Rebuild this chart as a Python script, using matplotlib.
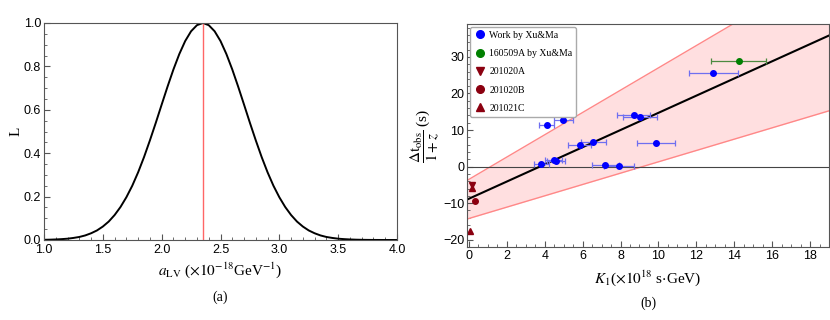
import numpy as np
import matplotlib.pyplot as plt
from matplotlib.ticker import MultipleLocator
from matplotlib.lines import Line2D

# panel (a): likelihood curve (step 0.05)
a_lv = [round(1.0 + 0.05 * i, 2) for i in range(61)]
like = [0.0009, 0.0015, 0.0025, 0.004, 0.006, 0.0095, 0.014, 0.021, 0.031, 0.044,
        0.062, 0.085, 0.115, 0.152, 0.197, 0.250, 0.312, 0.382, 0.459, 0.540,
        0.624, 0.707, 0.786, 0.857, 0.917, 0.962, 0.990, 1.0,
        0.990, 0.962, 0.917, 0.857, 0.786, 0.707, 0.624, 0.540, 0.459, 0.382,
        0.312, 0.250, 0.197, 0.152, 0.115, 0.085, 0.062, 0.044, 0.031, 0.021,
        0.014, 0.0095, 0.006, 0.004, 0.0025, 0.0015, 0.0009, 0.0005, 0.0003,
        0.0002, 0.0001, 0.0001, 0.0]
a_best = 2.35

# panel (b): Work by Xu&Ma
k_xu = [4.1, 4.97, 8.7, 9.05, 12.9, 5.85, 6.55, 9.85, 3.83, 4.47, 4.6, 7.2, 7.93]
k_xu_err = [0.41, 0.5, 0.88, 0.9, 1.28, 0.6, 0.66, 1.0, 0.4, 0.44, 0.47, 0.73, 0.79]
t_xu = [11.5, 12.7, 14.0, 13.5, 25.5, 5.9, 6.6, 6.5, 0.7, 1.9, 1.6, 0.5, 0.2]

k_160509 = [14.24]
k_160509_err = [1.44]
t_160509 = [28.8]

k_201020a, t_201020a = [0.15], [-5.0]
k_201020b, t_201020b = [0.3], [-9.5]
k_201021c, t_201021c = [0.15, 0.05], [-5.8, -17.6]

# fit line and band: slope, intercept
fit = (2.35, -8.8)
band_up = (3.05, -3.5)
band_lo = (1.55, -14.2)

serif = 'Liberation Serif'
sans = 'Liberation Sans'
plt.rcParams['font.family'] = sans
plt.rcParams['mathtext.fontset'] = 'stix'

fig = plt.figure(figsize=(8.3, 3.2), dpi=100)
ax1 = fig.add_axes([44 / 830, 1 - 240 / 320, 353 / 830, 217 / 320])
ax2 = fig.add_axes([467 / 830, 1 - 247 / 320, 362 / 830, 223 / 320])

for ax in (ax1, ax2):
    for s in ax.spines.values():
        s.set_color('#555555')
        s.set_linewidth(0.8)
    ax.tick_params(which='both', direction='in', top=False, right=False,
                   labelsize=9, color='#555555', pad=2)
    ax.tick_params(which='major', length=4)
    ax.tick_params(which='minor', length=2)
ax1.tick_params(axis='x', pad=3)

# (a)
ax1.plot(a_lv, like, color='black', lw=1.4)
ax1.axvline(a_best, color='#ff6666', lw=1.0)
ax1.set_xlim(1.0, 4.0)
ax1.set_ylim(0, 1.0)
ax1.xaxis.set_major_locator(MultipleLocator(0.5))
ax1.xaxis.set_minor_locator(MultipleLocator(0.1))
ax1.yaxis.set_major_locator(MultipleLocator(0.2))
ax1.yaxis.set_minor_locator(MultipleLocator(0.05))
ax1.set_xlabel(r'$a_{\rm LV}$ ($\times 10^{-18}$GeV$^{-1}$)', fontsize=11, family=serif, labelpad=3)
ax1.set_ylabel('L', fontsize=11, family=serif, labelpad=1)
fig.text((44 + 353 / 2) / 830, 1 - 297 / 320, '(a)', ha='center', va='center',
         fontsize=10, family=serif)

# (b)
xs = np.array([-0.1, 19.0])
ax2.fill_between(xs, band_lo[0] * xs + band_lo[1], band_up[0] * xs + band_up[1],
                 color='#ffdfe0', lw=0)
ax2.plot(xs, band_up[0] * xs + band_up[1], color='#ff8888', lw=1.0)
ax2.plot(xs, band_lo[0] * xs + band_lo[1], color='#ff8888', lw=1.0)
ax2.axhline(0, color='#444444', lw=0.8)
ax2.plot(xs, fit[0] * xs + fit[1], color='black', lw=1.5)

ax2.errorbar(k_xu, t_xu, xerr=k_xu_err, fmt='o', color='blue', ms=4,
             ecolor='#6f6ff0', elinewidth=0.9, capsize=2.5, capthick=0.9)
ax2.errorbar(k_160509, t_160509, xerr=k_160509_err, fmt='o', color='#008000', ms=4,
             ecolor='#4d8a40', elinewidth=0.9, capsize=2.5, capthick=0.9)
dred = '#8b0010'
ax2.plot(k_201020a, t_201020a, 'v', color=dred, ms=5)
ax2.plot(k_201020b, t_201020b, 'o', color=dred, ms=4)
ax2.plot(k_201021c, t_201021c, '^', color=dred, ms=5)

ax2.set_xlim(-0.1, 19.0)
ax2.set_ylim(-22, 39)
ax2.xaxis.set_major_locator(MultipleLocator(2))
ax2.xaxis.set_minor_locator(MultipleLocator(0.5))
ax2.yaxis.set_major_locator(MultipleLocator(10))
ax2.yaxis.set_minor_locator(MultipleLocator(2))
ax2.set_xlabel(r'$K_1$($\times 10^{18}$ s$\cdot$GeV)', fontsize=11, family=serif, labelpad=5)
ax2.set_ylabel(r'$\dfrac{\Delta {\rm t_{obs}}}{1+z}$ (s)', fontsize=11, family=serif, labelpad=1)
fig.text((467 + 362 / 2) / 830, 1 - 303 / 320, '(b)', ha='center', va='center',
         fontsize=10, family=serif)

handles = [
    Line2D([], [], marker='o', color='blue', ls='', ms=5.5),
    Line2D([], [], marker='o', color='#008000', ls='', ms=5.5),
    Line2D([], [], marker='v', color=dred, ls='', ms=5.5),
    Line2D([], [], marker='o', color=dred, ls='', ms=5.5),
    Line2D([], [], marker='^', color=dred, ls='', ms=5.5),
]
labels = ['Work by Xu&Ma', '160509A by Xu&Ma', '201020A', '201020B', '201021C']
ax2.legend(handles, labels, loc='upper left', prop={'family': serif, 'size': 7},
           frameon=True, edgecolor='#aaaaaa', framealpha=1, fancybox=True,
           handletextpad=0.4, labelspacing=0.95, borderaxespad=0.3, handlelength=1.2)

fig.savefig('out.png', dpi=100)
